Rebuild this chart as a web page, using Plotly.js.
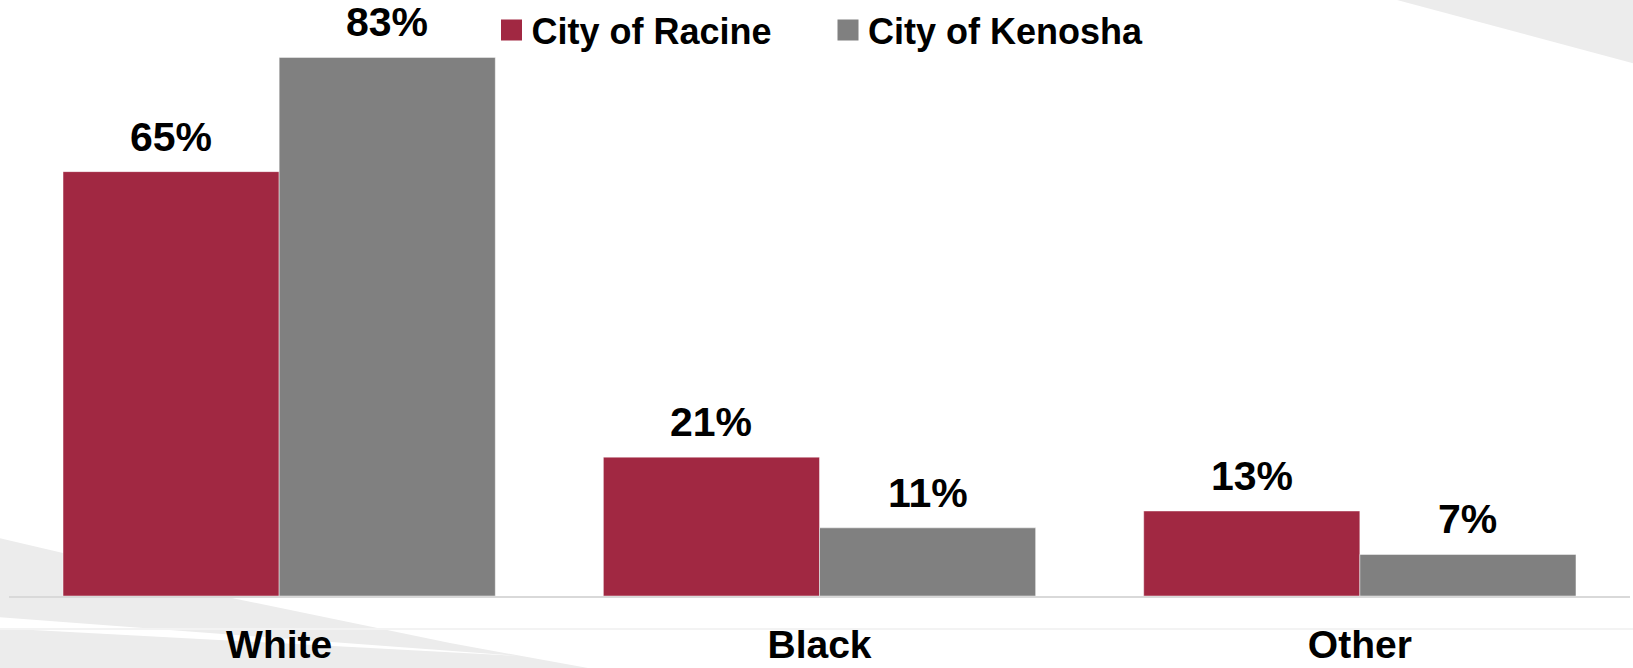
<!DOCTYPE html>
<html>
<head>
<meta charset="utf-8">
<script src="https://cdn.plot.ly/plotly-3.0.1.min.js"></script>
<style>
  html, body { margin: 0; padding: 0; background: #ffffff; }
  #chart { width: 1633px; height: 668px; }
</style>
</head>
<body>
<div id="chart"></div>
<script>
// ---- data ----
const categories = ['White', 'Black', 'Other'];
const seriesNames = ['City of Racine', 'City of Kenosha'];
const racineValues = [65.4, 21.4, 13.1];
const kenoshaValues = [83.0, 10.5, 6.4];
const racineLabels = ['65%', '21%', '13%'];
const kenoshaLabels = ['83%', '11%', '7%'];

// ---- style ----
const RED = '#A12842';
const GRAY = '#808080';
const BG_GRAY = '#ececec';
const FONT = 'Liberation Sans, Arial, Helvetica, sans-serif';

const W = 1633, Hh = 668;
const M = { l: 9, r: 3, t: 12, b: 72, autoexpand: false };
const PW = W - M.l - M.r, PH = Hh - M.t - M.b;
const px = x => (x - M.l) / PW;
const py = y => (M.t + PH - y) / PH;
const path = pts => 'M' + pts.map(p => px(p[0]).toFixed(5) + ',' + py(p[1]).toFixed(5)).join(' L') + ' Z';

const traces = [
  {
    type: 'bar', name: seriesNames[0], x: categories, y: racineValues,
    marker: { color: RED, line: { color: 'rgba(255,255,255,0.45)', width: 1 } },
    showlegend: false, hoverinfo: 'x+y'
  },
  {
    type: 'bar', name: seriesNames[1], x: categories, y: kenoshaValues,
    marker: { color: GRAY, line: { color: 'rgba(255,255,255,0.45)', width: 1 } },
    showlegend: false, hoverinfo: 'x+y'
  },
  {
    type: 'scatter', mode: 'markers', name: seriesNames[0], x: [null], y: [null],
    marker: { symbol: 'square', size: 16, color: RED, line: { color: RED, width: 5 } },
    legend: 'legend', hoverinfo: 'skip'
  },
  {
    type: 'scatter', mode: 'markers', name: seriesNames[1], x: [null], y: [null],
    marker: { symbol: 'square', size: 16, color: GRAY, line: { color: GRAY, width: 5 } },
    legend: 'legend2', hoverinfo: 'skip'
  }
];

const annotations = [];
categories.forEach((c, i) => {
  annotations.push({
    x: i - 0.2, y: racineValues[i], xref: 'x', yref: 'y', text: racineLabels[i],
    showarrow: false, yanchor: 'bottom', yshift: 10,
    font: { family: FONT, size: 41, weight: 700, color: '#000' }
  });
  annotations.push({
    x: i + 0.2, y: kenoshaValues[i], xref: 'x', yref: 'y', text: kenoshaLabels[i],
    showarrow: false, yanchor: 'bottom', yshift: 10,
    font: { family: FONT, size: 41, weight: 700, color: '#000' }
  });
});

const shapes = [
  { type: 'path', xref: 'paper', yref: 'paper', layer: 'below', line: { width: 0 }, fillcolor: BG_GRAY,
    path: path([[1397, 0], [1640, 65], [1640, -5], [1397, -5]]) },
  { type: 'path', xref: 'paper', yref: 'paper', layer: 'below', line: { width: 0 }, fillcolor: BG_GRAY,
    path: path([[-5, 537], [63, 553], [227, 597], [450, 643], [610, 672], [-5, 672]]) },
  { type: 'path', xref: 'paper', yref: 'paper', layer: 'below', line: { width: 0 }, fillcolor: '#ffffff',
    path: path([[-5, 617], [520, 656], [-5, 628]]) },
  { type: 'line', xref: 'paper', yref: 'paper', layer: 'below', line: { width: 2, color: '#f3f3f3' },
    x0: px(0), x1: px(W), y0: py(629), y1: py(629) }
];

const legendFont = { family: FONT, size: 36, weight: 700, color: '#000' };

const layout = {
  width: W, height: Hh,
  margin: M,
  paper_bgcolor: '#ffffff',
  plot_bgcolor: 'rgba(0,0,0,0)',
  font: { family: FONT, color: '#000' },
  barmode: 'group', bargap: 0.2, bargroupgap: 0,
  xaxis: {
    type: 'category', showgrid: false, zeroline: false, automargin: false,
    showline: true, linecolor: '#d9d9d9', linewidth: 1.5,
    ticks: 'outside', ticklen: 14, tickcolor: 'rgba(0,0,0,0)',
    tickfont: { family: FONT, size: 39, weight: 700, color: '#000' },
    fixedrange: true
  },
  yaxis: { visible: false, range: [0, 90], fixedrange: true },
  legend: {
    xref: 'paper', yref: 'paper', x: px(491.5), y: py(0),
    xanchor: 'left', yanchor: 'top', orientation: 'h', bgcolor: 'rgba(0,0,0,0)',
    font: legendFont
  },
  legend2: {
    xref: 'paper', yref: 'paper', x: px(828), y: py(0),
    xanchor: 'left', yanchor: 'top', orientation: 'h', bgcolor: 'rgba(0,0,0,0)',
    font: legendFont
  },
  annotations: annotations,
  shapes: shapes
};

Plotly.newPlot('chart', traces, layout, { displayModeBar: false, staticPlot: true });
</script>
</body>
</html>
